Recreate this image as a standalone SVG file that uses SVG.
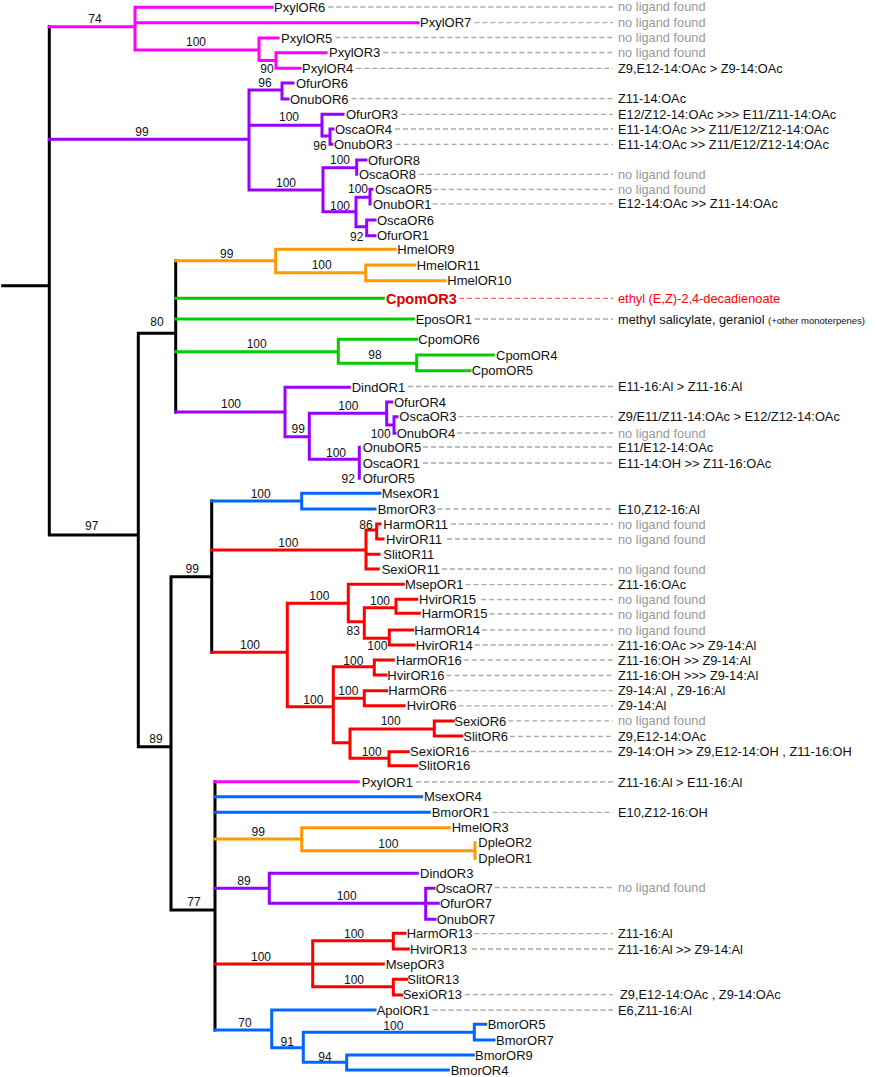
<svg xmlns="http://www.w3.org/2000/svg" width="876" height="1077" viewBox="0 0 876 1077">
<style>
.br{fill:none;stroke-width:3;stroke-linecap:square;stroke-linejoin:miter}
.k{stroke:#000}.pk{stroke:#ff00ff}.pu{stroke:#9900ff}.or{stroke:#ff9900}.gr{stroke:#00cc00}.rd{stroke:#ff0000}.bl{stroke:#0066ff}
.ds{fill:none;stroke:#aaaaaa;stroke-width:1.3;stroke-dasharray:5 3}
.dsr{fill:none;stroke:#ff6666;stroke-width:1.3;stroke-dasharray:5 3}
text{font-family:"Liberation Sans",Arial,sans-serif;fill:#111}
.lf{font-size:13px}
.bs{font-size:12px;text-anchor:middle}
.lg{font-size:12.8px}
.gy{fill:#999999}
.rt{fill:#ff0000}
.cp{font-size:14.5px;font-weight:bold;fill:#dd0000}
</style>
<g id="connectors">
<path class="br k" d="M2.7 285.7H49.3M49.3 26.7V535M49.3 535H138.3M138.3 333.3V746.7M138.3 333.3H175.7M175.7 260.7V412M138.3 746.7H171M171 576.7V910M171 576.7H211.7M211.7 501V652.3M171 910H215M215 781.7V1030"/>
<path class="br pk" d="M49.3 26.7H135M135 7.3V50M135 7.3H272M135 22.7H418M135 50H259M259 38V60.5M259 38H278M259 60.5H276M276 52.7V68.3M276 52.7H326M276 68.3H300M215 781.7H358.3"/>
<path class="br pu" d="M49.3 139.3H249M249 90V190M249 90H282M282 83V99M282 83H293M282 99H288M249 125.3H322M322 114.3V136M322 114.3H343M322 136H330M330 129V144.3M330 129H333M330 144.3H332M249 190H323M323 167.7V211.7M323 167.7H356.7M356.7 160V174.3M356.7 160H366M323 211.7H356M356 197.3V226.7M356 197.3H370M370 189.3V204M370 189.3H372M356 226.7H366.7M366.7 220V235.7M366.7 220H375M366.7 235.7H375"/>
<path class="br or" d="M175.7 260.7H275.7M275.7 249.3V272.7M275.7 249.3H395M275.7 272.7H365.7M365.7 265V280.7M365.7 265H415M365.7 280.7H445"/>
<path class="br gr" d="M175.7 298.3H383.3M175.7 319H413.3M175.7 351.7H338.3M338.3 339.3V363.3M338.3 339.3H416.7M338.3 363.3H416.7M416.7 355V370.7M416.7 355H493.3M416.7 370.7H470"/>
<path class="br pu" d="M175.7 412H285M285 387.3V436.7M285 387.3H349.3M285 436.7H309.3M309.3 413.3V459.3M309.3 413.3H386.7M386.7 402V425M386.7 402H391.7M386.7 425H394M394 416.7V433.3M394 416.7H397M394 433.3H395M309.3 459.3H359.3M359.3 447.3V478.3"/>
<path class="br bl" d="M211.7 501H301.7M301.7 493.3V509M301.7 493.3H380M301.7 509H375"/>
<path class="br rd" d="M211.7 550H366M366 530V569M366 530H376.7M376.7 524V539M376.7 524H380M376.7 539H383M366 554.3H379M366 569H378.3"/>
<path class="br rd" d="M211.7 652.3H287.3M287.3 603.3V706.7M287.3 603.3H348.3M348.3 584.3V621.7M348.3 584.3H403.3M348.3 621.7H364.3M364.3 607.7V638.3M364.3 607.7H396M396 599.3V613.3M396 599.3H416.7M396 613.3H419.3M364.3 638.3H389.3M389.3 630V645M389.3 630H412.7M389.3 645H414M287.3 706.7H333.3M333.3 666.7V742.7M333.3 666.7H374.3M374.3 660V675M374.3 660H393.3M374.3 675H386M333.3 698.3H364.3M364.3 690.7V705.7M364.3 690.7H386.7M364.3 705.7H404M333.3 742.7H350M350 729V758.3M350 729H434.3M434.3 721V736M434.3 721H453.3M434.3 736H461.7M350 758.3H389M389 751.7V765.7M389 751.7H408.3M389 765.7H416.7"/>
<path class="br bl" d="M215 796.7H421.7M215 812.3H429.3"/>
<path class="br or" d="M215 839H301.7M301.7 827.7V850.7M301.7 827.7H449.3M301.7 850.7H475M475 842.7V858.3"/>
<path class="br pu" d="M215 888.3H269.3M269.3 873.3V903.3M269.3 873.3H417.3M269.3 903.3H425.7M425.7 888.3V919.3M425.7 888.3H434M425.7 903.3H438.3M425.7 919.3H435"/>
<path class="br rd" d="M215 964H312.7M312.7 940.7V986.7M312.7 940.7H393.3M393.3 933.3V949M393.3 933.3H405M393.3 949H408.3M312.7 964H383.3M312.7 986.7H393.3M393.3 979.3V995M393.3 979.3H406.7M393.3 995H401.7"/>
<path class="br bl" d="M215 1030H271.7M271.7 1010V1047.7M271.7 1010H375M271.7 1047.7H303.3M303.3 1032.3V1062.3M303.3 1032.3H474.3M474.3 1024.3V1040M474.3 1024.3H485.7M474.3 1040H494M303.3 1062.3H346.7M346.7 1055V1070M346.7 1055H473.3M346.7 1070H448.3"/>
<path class="ds" d="M328.3 7H613M474.3 22.7H613M335.3 37.5H613M383.3 52.5H613M356.3 68.3H613M351.5 98.7H613M401 114.3H613M395 129H613M395.5 144.3H613M419 174.3H613M433 189.3H613M432.5 203.8H613M475 319H613M408 386.5H613M458.4 416.7H613M457 433H613M423 447H613M423 463H613M437.5 509H613M451 524H613M447 539H613M442 569H613M465.5 584.7H613M481 599.7H613M489.4 614H613M482 630H613M474.8 645H613M463.7 660H613M446.4 675.5H613M448.8 690.7H613M458.5 705.8H613M508.3 720.8H613M510 736.3H613M471 751.5H613M416 782H613M492.5 812.3H613M494.8 887.5H613M474.4 933.7H613M472 949H613M465 994.6H613M432.4 1010H613"/>
<path class="dsr" d="M459 298.3H613"/>
</g>
<g id="bootstrap">
<text class="bs" x="95" y="23.3">74</text>
<text class="bs" x="196" y="46.3">100</text>
<text class="bs" x="267" y="73.3">90</text>
<text class="bs" x="142" y="136.3">99</text>
<text class="bs" x="265" y="87.3">96</text>
<text class="bs" x="289" y="121.3">100</text>
<text class="bs" x="320" y="150.3">96</text>
<text class="bs" x="286" y="187.3">100</text>
<text class="bs" x="340" y="164.3">100</text>
<text class="bs" x="340" y="210">100</text>
<text class="bs" x="358" y="193.3">100</text>
<text class="bs" x="356.7" y="241.3">92</text>
<text class="bs" x="157" y="326">80</text>
<text class="bs" x="226.7" y="258.3">99</text>
<text class="bs" x="321.7" y="269.3">100</text>
<text class="bs" x="256.7" y="348.3">100</text>
<text class="bs" x="375" y="359.3">98</text>
<text class="bs" x="231" y="408.3">100</text>
<text class="bs" x="298.3" y="432.6">99</text>
<text class="bs" x="348.3" y="410.3">100</text>
<text class="bs" x="380.7" y="437.6">100</text>
<text class="bs" x="336" y="456.6">100</text>
<text class="bs" x="348.3" y="482.6">92</text>
<text class="bs" x="91.7" y="530.3">97</text>
<text class="bs" x="192.3" y="573.3">99</text>
<text class="bs" x="260.7" y="497.6">100</text>
<text class="bs" x="288.3" y="547">100</text>
<text class="bs" x="366" y="529.3">86</text>
<text class="bs" x="250" y="649.3">100</text>
<text class="bs" x="319.3" y="600">100</text>
<text class="bs" x="353.3" y="635">83</text>
<text class="bs" x="380" y="605">100</text>
<text class="bs" x="377.3" y="650.3">100</text>
<text class="bs" x="313.3" y="703.6">100</text>
<text class="bs" x="353.3" y="665.3">100</text>
<text class="bs" x="348.3" y="695.3">100</text>
<text class="bs" x="390.7" y="725.3">100</text>
<text class="bs" x="371.7" y="756">100</text>
<text class="bs" x="156" y="742.6">89</text>
<text class="bs" x="194" y="906">77</text>
<text class="bs" x="258.3" y="836">99</text>
<text class="bs" x="388.3" y="847.6">100</text>
<text class="bs" x="244" y="885">89</text>
<text class="bs" x="346.7" y="900.3">100</text>
<text class="bs" x="261" y="961">100</text>
<text class="bs" x="354" y="937.6">100</text>
<text class="bs" x="354" y="983.6">100</text>
<text class="bs" x="245" y="1027">70</text>
<text class="bs" x="287.3" y="1046">91</text>
<text class="bs" x="393.3" y="1030">100</text>
<text class="bs" x="325" y="1061">94</text>
</g>
<g id="PxylOR6"><text class="lf" x="274" y="11.9">PxylOR6</text><text class="lg gy" x="618" y="11.3">no ligand found</text></g>
<g id="PxylOR7"><text class="lf" x="420" y="27.3">PxylOR7</text><text class="lg gy" x="618" y="27.3">no ligand found</text></g>
<g id="PxylOR5"><text class="lf" x="281" y="42.6">PxylOR5</text><text class="lg gy" x="618" y="42.1">no ligand found</text></g>
<g id="PxylOR3"><text class="lf" x="329" y="57.3">PxylOR3</text><text class="lg gy" x="618" y="57">no ligand found</text></g>
<g id="PxylOR4"><text class="lf" x="302" y="72.9">PxylOR4</text><text class="lg" x="618" y="72.9">Z9,E12-14:OAc &gt; Z9-14:OAc</text></g>
<g id="OfurOR6"><text class="lf" x="296" y="87.6">OfurOR6</text></g>
<g id="OnubOR6"><text class="lf" x="290" y="103.6">OnubOR6</text><text class="lg" x="618" y="103.2">Z11-14:OAc</text></g>
<g id="OfurOR3"><text class="lf" x="346" y="118.9">OfurOR3</text><text class="lg" x="618" y="118.9">E12/Z12-14:OAc &gt;&gt;&gt; E11/Z11-14:OAc</text></g>
<g id="OscaOR4"><text class="lf" x="335" y="133.6">OscaOR4</text><text class="lg" x="618" y="133.6">E11-14:OAc &gt;&gt; Z11/E12/Z12-14:OAc</text></g>
<g id="OnubOR3"><text class="lf" x="334" y="148.9">OnubOR3</text><text class="lg" x="618" y="148.9">E11-14:OAc &gt;&gt; Z11/E12/Z12-14:OAc</text></g>
<g id="OfurOR8"><text class="lf" x="368" y="164.6">OfurOR8</text></g>
<g id="OscaOR8"><text class="lf" x="359" y="178.9">OscaOR8</text><text class="lg gy" x="618" y="178.9">no ligand found</text></g>
<g id="OscaOR5"><text class="lf" x="375" y="193.9">OscaOR5</text><text class="lg gy" x="618" y="193.9">no ligand found</text></g>
<g id="OnubOR1"><text class="lf" x="373" y="208.6">OnubOR1</text><text class="lg" x="618" y="208.4">E12-14:OAc &gt;&gt; Z11-14:OAc</text></g>
<g id="OscaOR6"><text class="lf" x="377" y="224.6">OscaOR6</text></g>
<g id="OfurOR1"><text class="lf" x="377" y="240.3">OfurOR1</text></g>
<g id="HmelOR9"><text class="lf" x="397.3" y="253.9">HmelOR9</text></g>
<g id="HmelOR11"><text class="lf" x="416.7" y="269.6">HmelOR11</text></g>
<g id="HmelOR10"><text class="lf" x="447.3" y="285.3">HmelOR10</text></g>
<g id="CpomOR3"><text class="cp" x="386" y="303.5">CpomOR3</text><text class="lg rt" x="618" y="302.9">ethyl (E,Z)-2,4-decadienoate</text></g>
<g id="EposOR1"><text class="lf" x="415.7" y="323.6">EposOR1</text><text class="lg" x="618" y="323.6">methyl salicylate, geraniol <tspan font-size="9.5px">(+other monoterpenes)</tspan></text></g>
<g id="CpomOR6"><text class="lf" x="418.3" y="343.9">CpomOR6</text></g>
<g id="CpomOR4"><text class="lf" x="496" y="359.6">CpomOR4</text></g>
<g id="CpomOR5"><text class="lf" x="471.7" y="375.3">CpomOR5</text></g>
<g id="DindOR1"><text class="lf" x="351.7" y="391.6">DindOR1</text><text class="lg" x="618" y="391.1">E11-16:Al &gt; Z11-16:Al</text></g>
<g id="OfurOR4"><text class="lf" x="394" y="406.6">OfurOR4</text></g>
<g id="OscaOR3"><text class="lf" x="399.3" y="421.3">OscaOR3</text><text class="lg" x="618" y="421.3">Z9/E11/Z11-14:OAc &gt; E12/Z12-14:OAc</text></g>
<g id="OnubOR4"><text class="lf" x="396.7" y="437.6">OnubOR4</text><text class="lg gy" x="618" y="437.6">no ligand found</text></g>
<g id="OnubOR5"><text class="lf" x="362.7" y="451.9">OnubOR5</text><text class="lg" x="618" y="451.6">E11/E12-14:OAc</text></g>
<g id="OscaOR1"><text class="lf" x="362.7" y="467.6">OscaOR1</text><text class="lg" x="618" y="467.6">E11-14:OH &gt;&gt; Z11-16:OAc</text></g>
<g id="OfurOR5"><text class="lf" x="362.7" y="482.9">OfurOR5</text></g>
<g id="MsexOR1"><text class="lf" x="381.7" y="497.9">MsexOR1</text></g>
<g id="BmorOR3"><text class="lf" x="377.7" y="513.6">BmorOR3</text><text class="lg" x="618" y="513.6">E10,Z12-16:Al</text></g>
<g id="HarmOR11"><text class="lf" x="383.3" y="528.6">HarmOR11</text><text class="lg gy" x="618" y="528.6">no ligand found</text></g>
<g id="HvirOR11"><text class="lf" x="386" y="543.6">HvirOR11</text><text class="lg gy" x="618" y="543.6">no ligand found</text></g>
<g id="SlitOR11"><text class="lf" x="383.3" y="558.9">SlitOR11</text></g>
<g id="SexiOR11"><text class="lf" x="381.7" y="573.6">SexiOR11</text><text class="lg gy" x="618" y="573.6">no ligand found</text></g>
<g id="MsepOR1"><text class="lf" x="405" y="588.9">MsepOR1</text><text class="lg" x="618" y="589.3">Z11-16:OAc</text></g>
<g id="HvirOR15"><text class="lf" x="419" y="603.9">HvirOR15</text><text class="lg gy" x="618" y="604.3">no ligand found</text></g>
<g id="HarmOR15"><text class="lf" x="421.7" y="617.9">HarmOR15</text><text class="lg gy" x="618" y="618.6">no ligand found</text></g>
<g id="HarmOR14"><text class="lf" x="414.3" y="634.6">HarmOR14</text><text class="lg gy" x="618" y="634.6">no ligand found</text></g>
<g id="HvirOR14"><text class="lf" x="415.7" y="649.6">HvirOR14</text><text class="lg" x="618" y="649.6">Z11-16:OAc &gt;&gt; Z9-14:Al</text></g>
<g id="HarmOR16"><text class="lf" x="396" y="664.6">HarmOR16</text><text class="lg" x="618" y="664.6">Z11-16:OH &gt;&gt; Z9-14:Al</text></g>
<g id="HvirOR16"><text class="lf" x="387.3" y="680.1">HvirOR16</text><text class="lg" x="618" y="680.1">Z11-16:OH &gt;&gt;&gt; Z9-14:Al</text></g>
<g id="HarmOR6"><text class="lf" x="388.3" y="695.3">HarmOR6</text><text class="lg" x="618" y="695.3">Z9-14:Al , Z9-16:Al</text></g>
<g id="HvirOR6"><text class="lf" x="406.7" y="710.3">HvirOR6</text><text class="lg" x="618" y="710.4">Z9-14:Al</text></g>
<g id="SexiOR6"><text class="lf" x="454.3" y="725.6">SexiOR6</text><text class="lg gy" x="618" y="725.4">no ligand found</text></g>
<g id="SlitOR6"><text class="lf" x="463.3" y="740.9">SlitOR6</text><text class="lg" x="618" y="740.9">Z9,E12-14:OAc</text></g>
<g id="SexiOR16"><text class="lf" x="410" y="756.1">SexiOR16</text><text class="lg" x="618" y="756.1">Z9-14:OH &gt;&gt; Z9,E12-14:OH , Z11-16:OH</text></g>
<g id="SlitOR16"><text class="lf" x="418.3" y="770.3">SlitOR16</text></g>
<g id="PxylOR1"><text class="lf" x="361.7" y="786.6">PxylOR1</text><text class="lg" x="618" y="786.6">Z11-16:Al &gt; E11-16:Al</text></g>
<g id="MsexOR4"><text class="lf" x="424" y="801.3">MsexOR4</text></g>
<g id="BmorOR1"><text class="lf" x="431.7" y="816.9">BmorOR1</text><text class="lg" x="618" y="816.9">E10,Z12-16:OH</text></g>
<g id="HmelOR3"><text class="lf" x="451.7" y="832.3">HmelOR3</text></g>
<g id="DpleOR2"><text class="lf" x="478.3" y="847.3">DpleOR2</text></g>
<g id="DpleOR1"><text class="lf" x="478.3" y="862.9">DpleOR1</text></g>
<g id="DindOR3"><text class="lf" x="420" y="877.9">DindOR3</text></g>
<g id="OscaOR7"><text class="lf" x="435.7" y="892.6">OscaOR7</text><text class="lg gy" x="618" y="892.1">no ligand found</text></g>
<g id="OfurOR7"><text class="lf" x="440" y="907.9">OfurOR7</text></g>
<g id="OnubOR7"><text class="lf" x="436.7" y="923.9">OnubOR7</text></g>
<g id="HarmOR13"><text class="lf" x="406.7" y="938.3">HarmOR13</text><text class="lg" x="618" y="938.3">Z11-16:Al</text></g>
<g id="HvirOR13"><text class="lf" x="410" y="953.6">HvirOR13</text><text class="lg" x="618" y="953.6">Z11-16:Al &gt;&gt; Z9-14:Al</text></g>
<g id="MsepOR3"><text class="lf" x="385.7" y="968.6">MsepOR3</text></g>
<g id="SlitOR13"><text class="lf" x="407.3" y="983.9">SlitOR13</text></g>
<g id="SexiOR13"><text class="lf" x="402.7" y="999.3">SexiOR13</text><text class="lg" x="620" y="999.2">Z9,E12-14:OAc , Z9-14:OAc</text></g>
<g id="ApolOR1"><text class="lf" x="376.7" y="1014.6">ApolOR1</text><text class="lg" x="618" y="1014.6">E6,Z11-16:Al</text></g>
<g id="BmorOR5"><text class="lf" x="487.7" y="1028.9">BmorOR5</text></g>
<g id="BmorOR7"><text class="lf" x="496" y="1044.6">BmorOR7</text></g>
<g id="BmorOR9"><text class="lf" x="475" y="1059.6">BmorOR9</text></g>
<g id="BmorOR4"><text class="lf" x="450.7" y="1074.6">BmorOR4</text></g>
</svg>
